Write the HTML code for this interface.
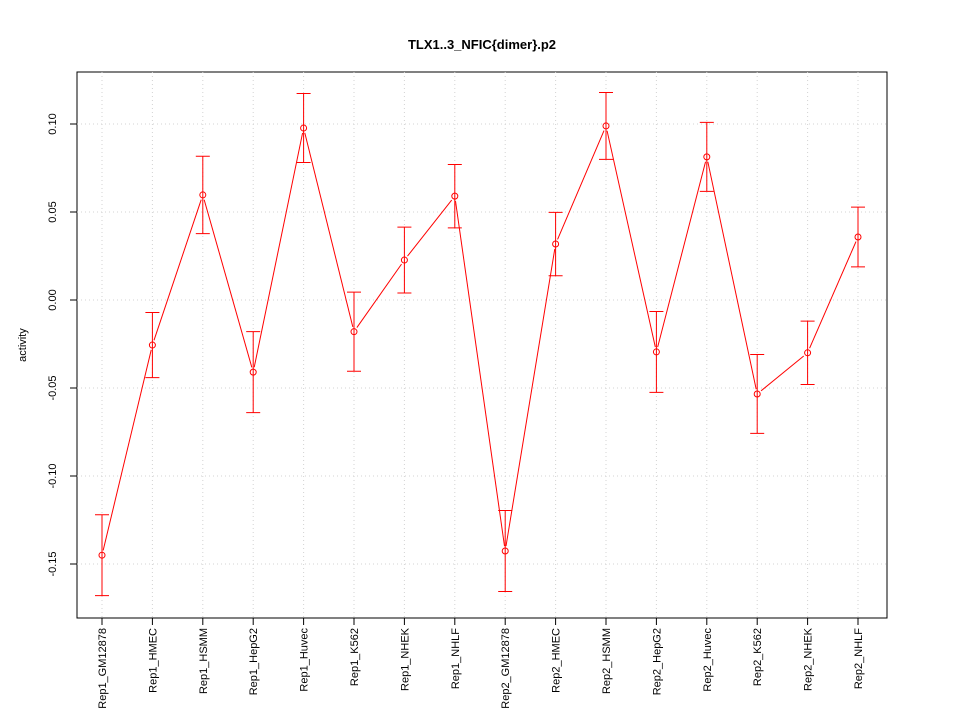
<!DOCTYPE html>
<html><head><meta charset="utf-8"><style>
body{margin:0;background:#fff}
svg{display:block;font-family:"Liberation Sans",Arial,sans-serif}
</style></head><body>
<svg id="chart" width="960" height="720">
<text x="482" y="49" text-anchor="middle" font-size="13" font-weight="bold">TLX1..3_NFIC{dimer}.p2</text>
<text transform="translate(26,345) rotate(-90)" text-anchor="middle" font-size="11">activity</text>
<rect x="77" y="72" width="810" height="546" fill="none" stroke="#000"/>
<g id="grid"></g><g id="axes"></g><g id="marks"></g>
</svg>
<script>
const categories=["Rep1_GM12878","Rep1_HMEC","Rep1_HSMM","Rep1_HepG2","Rep1_Huvec","Rep1_K562","Rep1_NHEK","Rep1_NHLF","Rep2_GM12878","Rep2_HMEC","Rep2_HSMM","Rep2_HepG2","Rep2_Huvec","Rep2_K562","Rep2_NHEK","Rep2_NHLF"];
const values=[-0.145,-0.0256,0.0597,-0.041,0.0977,-0.018,0.0227,0.059,-0.1426,0.0318,0.0989,-0.0295,0.0813,-0.0534,-0.030,0.0358];
const errors=[0.023,0.0185,0.022,0.023,0.0196,0.0225,0.0187,0.018,0.023,0.018,0.019,0.023,0.0196,0.0224,0.018,0.017];
const yTicks=[-0.15,-0.10,-0.05,0.00,0.05,0.10];
const yTickLabels=["-0.15","-0.10","-0.05","0.00","0.05","0.10"];
const NS="http://www.w3.org/2000/svg";
function y(v){return 300-v*1760;}
function x(i){return 102+i*(756/(categories.length-1));}
function mk(p,t,a){const e=document.createElementNS(NS,t);for(const k in a)e.setAttribute(k,a[k]);p.appendChild(e);return e;}
const grid=document.getElementById('grid'),axes=document.getElementById('axes'),marks=document.getElementById('marks');
categories.forEach((c,i)=>{
 const g=mk(grid,'line',{x1:x(i),x2:x(i),y1:72,y2:618,stroke:'#d3d3d3','stroke-dasharray':'1,3'});
 
 
 const t=mk(axes,'line',{x1:x(i),x2:x(i),y1:618,y2:625,stroke:'#000'});
 
 
 const l=mk(axes,'text',{transform:`translate(${x(i)+4},628) rotate(-90)`,'text-anchor':'end','font-size':'11'});
 l.textContent=c;
 
 
});
yTicks.forEach((v,i)=>{
 const g=mk(grid,'line',{x1:77,x2:887,y1:y(v),y2:y(v),stroke:'#d3d3d3','stroke-dasharray':'1,3'});
 
 
 const t=mk(axes,'line',{x1:70,x2:77,y1:y(v),y2:y(v),stroke:'#000'});
 
 
 const l=mk(axes,'text',{transform:`translate(56,${y(v)}) rotate(-90)`,'text-anchor':'middle','font-size':'11'});
 l.textContent=yTickLabels[i];
 
 
});
for(let i=0;i<values.length-1;i++){
 const x1=x(i),y1=y(values[i]),x2=x(i+1),y2=y(values[i+1]);
 const dx=x2-x1,dy=y2-y1,d=Math.hypot(dx,dy),s=5/d;
 const seg=mk(marks,'line',{x1:x1+dx*s,y1:y1+dy*s,x2:x2-dx*s,y2:y2-dy*s,stroke:'#f00'});
 
 
}
values.forEach((v,i)=>{
 const cx=x(i),t=y(v+errors[i]),b=y(v-errors[i]);
 const e=mk(marks,'path',{d:`M${cx},${t}V${b}M${cx-7},${t}H${cx+7}M${cx-7},${b}H${cx+7}`,stroke:'#f00',fill:'none'});
 
 
 const p=mk(marks,'circle',{cx:cx,cy:y(v),r:3,fill:'none',stroke:'#f00'});
 
 
});
</script>
</body></html>
